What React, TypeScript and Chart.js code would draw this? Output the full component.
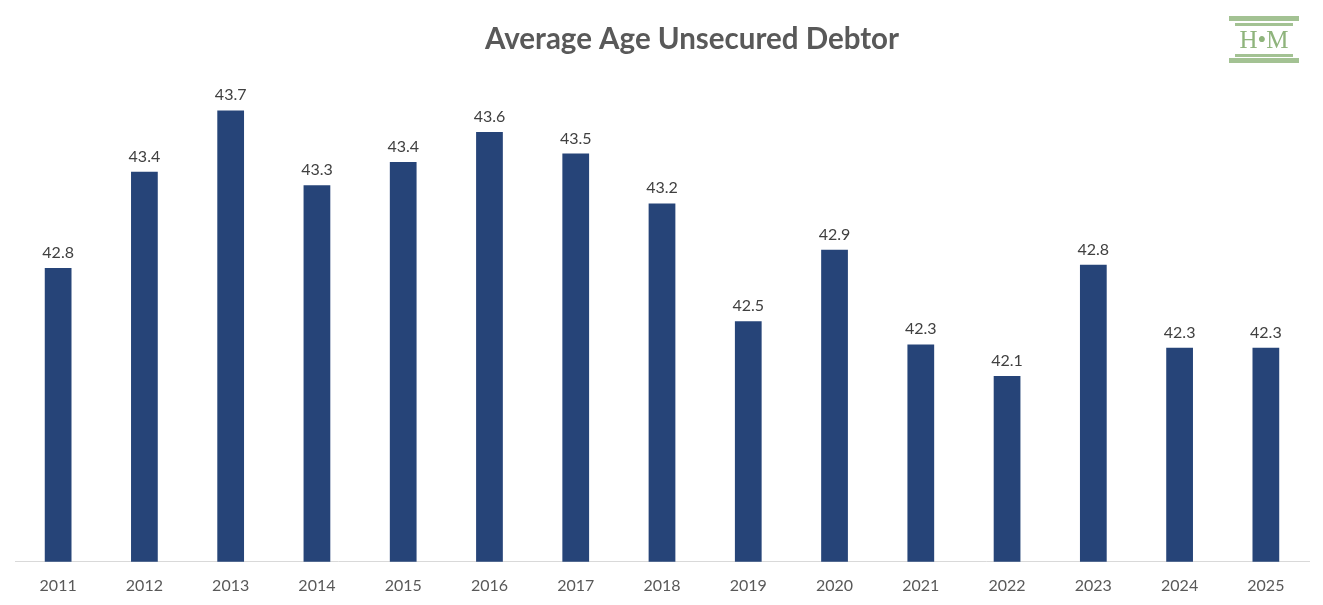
import React, { useEffect, useRef } from "react";
import { Chart, registerables } from "chart.js";

Chart.register(...registerables);

const years = ["2011", "2012", "2013", "2014", "2015", "2016", "2017", "2018", "2019", "2020", "2021", "2022", "2023", "2024", "2025"];
const avgAge = [42.77, 43.35, 43.72, 43.27, 43.41, 43.59, 43.46, 43.16, 42.45, 42.88, 42.31, 42.12, 42.79, 42.29, 42.29];
const chartTitle = "Average Age Unsecured Debtor";

const FONT = "Lato, 'Open Sans', sans-serif";

const labelPlugin = {
  id: "barLabels",
  afterDatasetsDraw(chart: any) {
    const ctx = chart.ctx;
    const meta = chart.getDatasetMeta(0);
    ctx.save();
    ctx.font = `16px ${FONT}`;
    ctx.fillStyle = "#404040";
    ctx.textAlign = "center";
    ctx.textBaseline = "alphabetic";
    meta.data.forEach((bar: any, i: number) => {
      ctx.fillText(avgAge[i].toFixed(1), bar.x, bar.y - 10);
    });
    ctx.restore();
  },
};

const titlePlugin = {
  id: "customTitle",
  afterDraw(chart: any) {
    const ctx = chart.ctx;
    ctx.save();
    ctx.font = `bold 29.5px ${FONT}`;
    ctx.fillStyle = "#595959";
    ctx.textAlign = "center";
    ctx.textBaseline = "middle";
    ctx.fillText(chartTitle, 692, 39);
    ctx.restore();
  },
};

export default function App() {
  const ref = useRef<HTMLCanvasElement | null>(null);
  useEffect(() => {
    if (!ref.current) return;
    const chart = new Chart(ref.current, {
      type: "bar",
      data: {
        labels: years,
        datasets: [
          {
            data: avgAge,
            backgroundColor: "#264478",
            categoryPercentage: 1,
            barPercentage: 0.31,
          },
        ],
      },
      options: {
        animation: false,
        responsive: true,
        maintainAspectRatio: false,
        layout: { padding: { left: 15, right: 14, top: 64, bottom: -4 } },
        plugins: { legend: { display: false }, tooltip: { enabled: false }, title: { display: false } },
        scales: {
          x: {
            grid: { display: false, drawTicks: false },
            border: { display: true, color: "#d9d9d9", width: 1 },
            ticks: { color: "#595959", font: { size: 16, family: FONT }, padding: 14 },
          },
          y: { display: false, min: 41, max: 44 },
        },
      },
      plugins: [labelPlugin, titlePlugin],
    });
    return () => chart.destroy();
  }, []);

  return (
    <div style={{ position: "absolute", left: 0, top: 0, width: 1323, height: 605, background: "#fff" }}>
      <canvas ref={ref} />
      <div style={{ position: "absolute", left: 1229, top: 16, width: 70, height: 47 }}>
        <div style={{ position: "absolute", left: 0, top: 0, width: 70, height: 5, background: "#a3c293" }} />
        <div style={{ position: "absolute", left: 6, top: 7, width: 58, height: 3, background: "#a3c293" }} />
        <div style={{ position: "absolute", left: 0, top: 11, width: 70, textAlign: "center", fontFamily: "'Liberation Serif', 'DejaVu Serif', serif", fontSize: 25, lineHeight: "26px", color: "#8fb47c" }}>H•M</div>
        <div style={{ position: "absolute", left: 6, top: 38, width: 58, height: 3, background: "#a3c293" }} />
        <div style={{ position: "absolute", left: 0, top: 42, width: 70, height: 5, background: "#a3c293" }} />
      </div>
    </div>
  );
}
